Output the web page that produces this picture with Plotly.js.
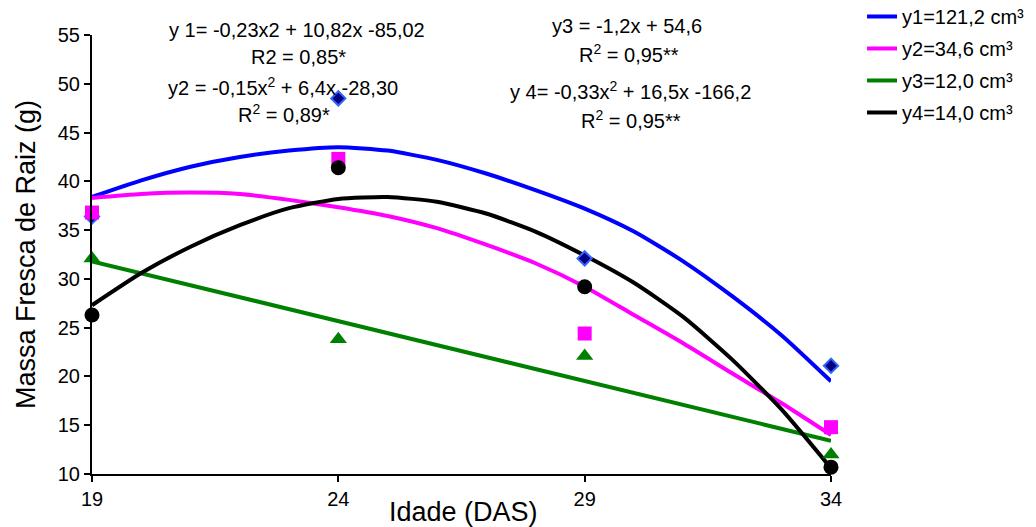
<!DOCTYPE html>
<html>
<head>
<meta charset="utf-8">
<script src="https://cdn.plot.ly/plotly-3.0.1.min.js"></script>
<style>html,body{margin:0;padding:0;background:#fff;}#chart{width:1036px;height:527px;}</style>
</head>
<body>
<div id="chart"></div>
<script>
// Observed points (Idade DAS)
const days = [19, 24, 29, 34];
const obsY1 = [36.4, 48.5, 32.1, 21.1];
const obsY2 = [36.8, 42.3, 24.4, 14.8];
const obsY3 = [32.1, 23.8, 22.1, 12.0];
const obsY4 = [26.3, 41.4, 29.2, 10.7];

// Trend curves at each day
const curveX = [19, 20, 21, 22, 23, 24, 25, 26, 27, 28, 29, 30, 31, 32, 33, 34];
const curveY1 = [38.4, 40.1, 41.5, 42.5, 43.15, 43.5, 43.15, 42.2, 40.8, 39.1, 37.2, 34.85, 31.8, 28.2, 24.2, 19.5];
const curveY2 = [38.3, 38.7, 38.85, 38.7, 38.1, 37.35, 36.45, 35.2, 33.5, 31.6, 29.2, 26.3, 23.4, 20.3, 17.25, 14.0];
const curveY4 = [27.3, 30.6, 33.3, 35.5, 37.25, 38.2, 38.4, 37.9, 36.7, 34.85, 32.4, 29.6, 26.1, 21.7, 16.6, 10.6];
const lineX3 = [19, 34];
const lineY3 = [31.8, 13.4];

const seriesNames = ['y1=121,2 cm³', 'y2=34,6 cm³', 'y3=12,0 cm³', 'y4=14,0 cm³'];
const colors = ['#0000FF', '#FF00FF', '#008000', '#000000'];

const xTicks = [19, 24, 29, 34];
const yTicks = [10, 15, 20, 25, 30, 35, 40, 45, 50, 55];

const traces = [
  {x: curveX, y: curveY1, mode: 'lines', line: {color: colors[0], width: 4, shape: 'spline', smoothing: 0.6}, name: seriesNames[0], legendgroup: 'a'},
  {x: curveX, y: curveY2, mode: 'lines', line: {color: colors[1], width: 4, shape: 'spline', smoothing: 0.6}, name: seriesNames[1], legendgroup: 'b'},
  {x: lineX3, y: lineY3, mode: 'lines', line: {color: colors[2], width: 4}, name: seriesNames[2], legendgroup: 'c'},
  {x: curveX, y: curveY4, mode: 'lines', line: {color: colors[3], width: 4, shape: 'spline', smoothing: 0.6}, name: seriesNames[3], legendgroup: 'd'},
  {x: days, y: obsY1, mode: 'markers', showlegend: false, cliponaxis: false,
   marker: {symbol: 'diamond', size: 11, color: '#000080', line: {color: '#3366FF', width: 2}}},
  {x: days, y: obsY2, mode: 'markers', showlegend: false, cliponaxis: false,
   marker: {symbol: 'square', size: 14, color: '#FF00FF'}},
  {x: days, y: obsY3, mode: 'markers', showlegend: false, cliponaxis: false,
   marker: {symbol: 'triangle-up', size: 15, color: '#008000'}},
  {x: days, y: obsY4, mode: 'markers', showlegend: false, cliponaxis: false,
   marker: {symbol: 'circle', size: 15, color: '#000000'}}
];

const FONT = 'Liberation Sans, Arial, sans-serif';
const annFont = {family: FONT, size: 20, color: '#000'};
function px(p) { return (p - 92) / 739; }
function py(p) { return 1 - (p - 35) / 439; }
function ann(text, x, y) {
  return {text: text, xref: 'paper', yref: 'paper', x: px(x), y: py(y), xanchor: 'center', yanchor: 'middle', showarrow: false, font: annFont};
}

const layout = {
  width: 1036, height: 527,
  margin: {l: 92, r: 205, t: 35, b: 53, autoexpand: false},
  paper_bgcolor: '#fff', plot_bgcolor: '#fff',
  font: {family: FONT, size: 20, color: '#000'},
  showlegend: true,
  legend: {x: 1.042, xanchor: 'left', y: 1.0866, yanchor: 'top', tracegroupgap: 3,
           font: {family: FONT, size: 20, color: '#000'}, bgcolor: 'rgba(0,0,0,0)'},
  xaxis: {range: [19, 34], tickvals: xTicks, ticktext: xTicks.map(String),
          showgrid: false, zeroline: false, showline: true, linecolor: '#000', linewidth: 2,
          ticks: 'outside', ticklen: 6, tickwidth: 2, tickcolor: '#000',
          tickfont: {family: FONT, size: 20, color: '#000'}},
  yaxis: {range: [10, 55], tickvals: yTicks,
          showgrid: false, zeroline: false, showline: true, linecolor: '#000', linewidth: 2,
          ticks: 'outside', ticklen: 6, tickwidth: 2, tickcolor: '#000',
          tickfont: {family: FONT, size: 20, color: '#000'},
          title: {text: 'Massa Fresca de Raiz (g)', font: {family: FONT, size: 27, color: '#000'}, standoff: 14}},
  annotations: [
    {text: 'Idade (DAS)', xref: 'paper', yref: 'paper', x: px(463), y: py(512), xanchor: 'center', yanchor: 'middle',
     showarrow: false, font: {family: FONT, size: 27, color: '#000'}},
    ann('y 1= -0,23x2 + 10,82x -85,02', 297, 30),
    ann('R2 = 0,85*', 298, 57),
    ann('y2 = -0,15x<sup>2</sup> + 6,4x -28,30', 283, 86),
    ann('R<sup>2</sup> = 0,89*', 284, 113),
    ann('y3 = -1,2x + 54,6', 627, 26),
    ann('R<sup>2</sup> = 0,95**', 629, 54),
    ann('y 4= -0,33x<sup>2</sup> + 16,5x -166,2', 630, 90),
    ann('R<sup>2</sup> = 0,95**', 631, 119)
  ]
};

Plotly.newPlot('chart', traces, layout, {displayModeBar: false, staticPlot: true});
</script>
</body>
</html>
